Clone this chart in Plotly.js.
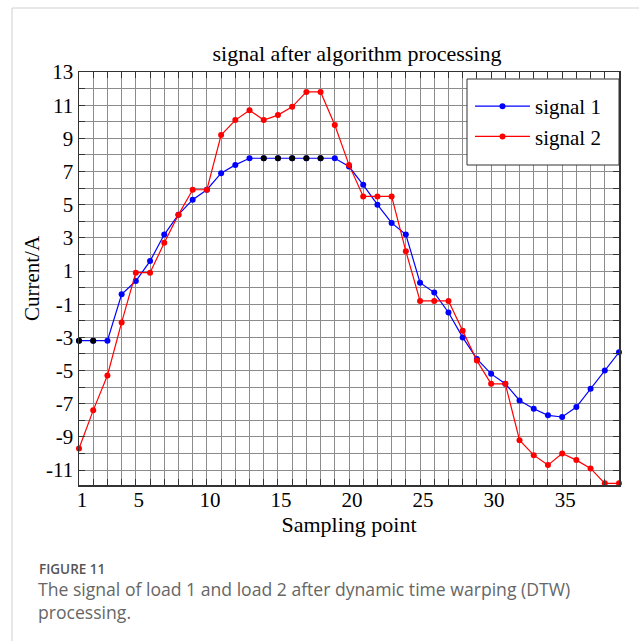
<!DOCTYPE html>
<html>
<head>
<meta charset="utf-8">
<script src="https://cdn.plot.ly/plotly-3.0.1.min.js"></script>
<style>
  html, body { margin: 0; padding: 0; background: #fff; }
  #chart { width: 639px; height: 641px; }
</style>
</head>
<body>
<div id="chart"></div>
<script>
// ---- data ----
const samplingPoints = [1,2,3,4,5,6,7,8,9,10,11,12,13,14,15,16,17,18,19,20,21,22,23,24,25,26,27,28,29,30,31,32,33,34,35,36,37,38,39];
const signal1 = [-3.2,-3.2,-3.2,-0.4,0.4,1.6,3.2,4.4,5.3,5.9,6.9,7.4,7.8,7.8,7.8,7.8,7.8,7.8,7.8,7.3,6.2,5.0,3.9,3.2,0.3,-0.3,-1.5,-3.0,-4.3,-5.2,-5.8,-6.8,-7.3,-7.7,-7.8,-7.2,-6.1,-5.0,-3.9];
const signal2 = [-9.7,-7.4,-5.3,-2.1,0.9,0.9,2.7,4.4,5.9,5.9,9.2,10.1,10.7,10.1,10.4,10.9,11.8,11.8,9.8,7.4,5.5,5.5,5.5,2.2,-0.8,-0.8,-0.8,-2.6,-4.4,-5.8,-5.8,-9.2,-10.1,-10.7,-10.0,-10.4,-10.9,-11.8,-11.8];
// points of signal 1 drawn with black markers in the figure
const signal1BlackPoints = [1,2,14,15,16,17,18];
const seriesNames = ['signal 1', 'signal 2'];
const xTickVals = [1,5,10,15,20,25,30,35];
const yTickVals = [-11,-9,-7,-5,-3,-1,1,3,5,7,9,11,13];
const yTickText = ['-11','-9','-7','-5','-3','-1','1','3','5','7','9','11','13'];
const chartTitle = 'signal after algorithm processing';
const xTitle = 'Sampling point';
const yTitle = 'Current/A';
const captionHead = 'FIGURE 11';
const captionLines = ['The signal of load 1 and load 2 after dynamic time warping (DTW)', 'processing.'];

// ---- styles ----
const SERIF = '"Liberation Serif", "Times New Roman", serif';
const SANS = '"Open Sans", "Noto Sans", sans-serif';
const GRID = '#8c8c8c';
const AXIS = '#333333';

const blackIdx = samplingPoints.map((p, i) => signal1BlackPoints.includes(p) ? i : -1).filter(i => i >= 0);

const traces = [
  {
    x: samplingPoints, y: signal1, name: seriesNames[0],
    type: 'scatter', mode: 'lines+markers',
    line: {color: '#0000ff', width: 1.2},
    marker: {color: '#0000ff', size: 6, line: {width: 0}},
    cliponaxis: false
  },
  {
    x: blackIdx.map(i => samplingPoints[i]), y: blackIdx.map(i => signal1[i]),
    name: seriesNames[0], showlegend: false,
    type: 'scatter', mode: 'markers',
    marker: {color: '#000000', size: 6, line: {width: 0}},
    cliponaxis: false
  },
  {
    x: samplingPoints, y: signal2, name: seriesNames[1],
    type: 'scatter', mode: 'lines+markers',
    line: {color: '#ff0000', width: 1.2},
    marker: {color: '#ff0000', size: 6, line: {width: 0}},
    cliponaxis: false
  }
];

const PL = 79, PR = 20, PT = 72, PB = 156;
const W = 639, H = 641;
const pw = W - PL - PR, ph = H - PT - PB;
const px = v => (v - PL) / pw;          // pixel x -> paper
const py = v => (H - PB - v) / ph;      // pixel y -> paper

const layout = {
  width: W, height: H,
  margin: {l: PL, r: PR, t: PT, b: PB, pad: 0},
  paper_bgcolor: '#ffffff', plot_bgcolor: '#ffffff',
  showlegend: true,
  title: {
    text: chartTitle,
    font: {family: SERIF, size: 22, color: '#000'},
    x: px(357), xref: 'paper', xanchor: 'center',
    y: 1 - 53 / H, yref: 'container', yanchor: 'middle'
  },
  xaxis: {
    range: [1, 39],
    tickmode: 'array', tickvals: xTickVals,
    ticks: 'inside', ticklen: 6, tickwidth: 1, tickcolor: AXIS,
    showline: true, linecolor: AXIS, linewidth: 1.5, mirror: 'ticks',
    showgrid: true, gridcolor: GRID, gridwidth: 1,
    zeroline: false,
    tickfont: {family: SERIF, size: 21, color: '#000'},
    ticklabelshift: 3,
    ticklabelstandoff: -5,
    minor: {tickmode: 'linear', tick0: 1, dtick: 1, ticks: 'inside', ticklen: 6, tickcolor: AXIS, showgrid: true, gridcolor: GRID, gridwidth: 1},
    title: {text: xTitle, font: {family: SERIF, size: 22, color: '#000'}, standoff: 0}
  },
  yaxis: {
    range: [-11.9, 13],
    tickmode: 'array', tickvals: yTickVals, ticktext: yTickText,
    ticks: 'inside', ticklen: 6, tickwidth: 1, tickcolor: AXIS,
    showline: true, linecolor: AXIS, linewidth: 1.5, mirror: 'ticks',
    showgrid: true, gridcolor: GRID, gridwidth: 1,
    zeroline: false,
    tickfont: {family: SERIF, size: 21, color: '#000'},
    minor: {tickmode: 'linear', tick0: 0, dtick: 1, ticks: 'inside', ticklen: 6, tickcolor: AXIS, showgrid: true, gridcolor: GRID, gridwidth: 1},
    title: {text: yTitle, font: {family: SERIF, size: 21, color: '#000'}, standoff: 0}
  },
  legend: {
    x: px(470), xanchor: 'left', xref: 'paper',
    y: py(86), yanchor: 'top', yref: 'paper',
    bgcolor: 'rgba(0,0,0,0)', borderwidth: 0,
    itemwidth: 55,
    font: {family: SERIF, size: 21, color: '#000'},
    tracegroupgap: 0
  },
  shapes: [
    {type: 'rect', xref: 'paper', yref: 'paper', x0: px(467), x1: 1, y0: py(165), y1: py(79), layer: 'above',
     fillcolor: '#ffffff', line: {color: '#333333', width: 1}},
    {type: 'line', xref: 'paper', yref: 'paper', x0: px(12), x1: px(639), y0: py(8), y1: py(8), line: {color: '#d0d0d0', width: 1}},
    {type: 'line', xref: 'paper', yref: 'paper', x0: px(12), x1: px(12), y0: py(8), y1: py(641), line: {color: '#d0d0d0', width: 1}}
  ],
  annotations: [
    {text: captionHead, xref: 'paper', yref: 'paper', x: px(37), y: py(569), xanchor: 'left', yanchor: 'middle', showarrow: false,
     font: {family: SANS, size: 13.5, color: '#555555', weight: 600}},
    {text: captionLines.join('<br>'), xref: 'paper', yref: 'paper', x: px(36), y: py(600), xanchor: 'left', yanchor: 'middle', align: 'left', showarrow: false,
     font: {family: SANS, size: 17.6, color: '#666666'}}
  ]
};

Plotly.newPlot('chart', traces, layout, {displayModeBar: false, staticPlot: true});
</script>
</body>
</html>
